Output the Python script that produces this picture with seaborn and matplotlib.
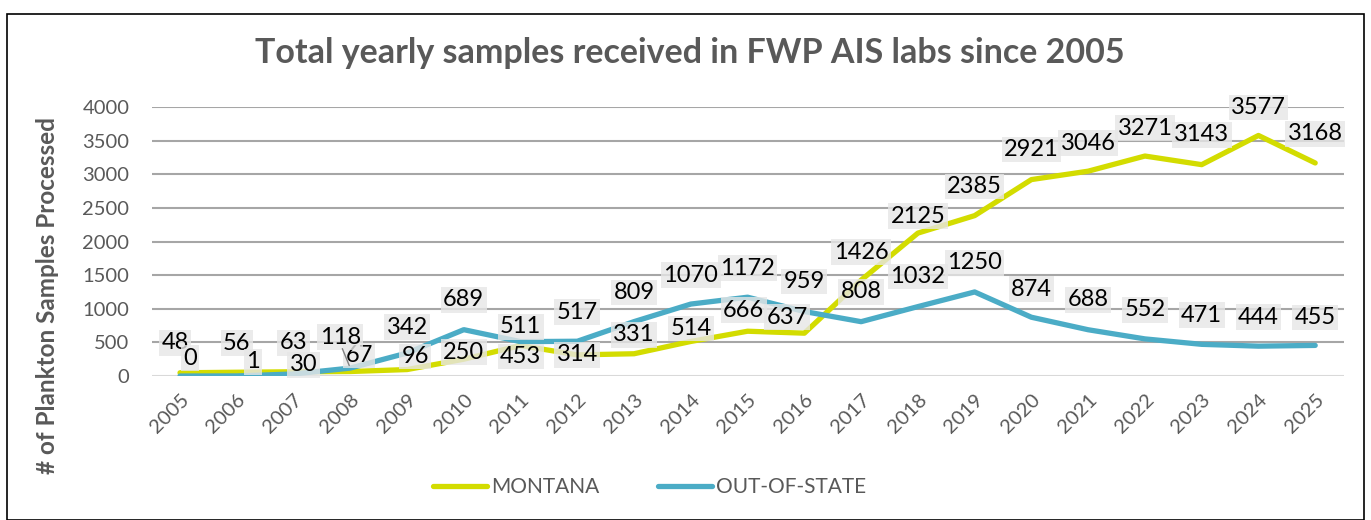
import matplotlib.pyplot as plt
import matplotlib.patches as mpatches
from matplotlib.lines import Line2D
import numpy as np
import pandas as pd
import seaborn as sns

years = [str(y) for y in range(2005, 2026)]
montana = [48, 56, 63, 67, 96, 250, 453, 314, 331, 514, 666, 637,
           1426, 2125, 2385, 2921, 3046, 3271, 3143, 3577, 3168]
out_of_state = [0, 1, 30, 118, 342, 689, 511, 517, 809, 1070, 1172, 959,
                808, 1032, 1250, 874, 688, 552, 471, 444, 455]
series_names = ["MONTANA", "OUT-OF-STATE"]
colors = ["#d3dc00", "#4bacc6"]

# data label offsets in pixels (dx, dy up), as placed in the original chart
mt_dy = [30, 29, 29, 16, 13, 7, -11, 0, 19, 13, 21, 16, 28, 17, 29, 30, 28, 28, 30, 28, 29]
mt_dx = [-5, 0, 0, 9, 8, 0, 0, 0, 0, 0, -4, -17, 0, 0, 0, 0, 0, 0, 0, 0, 0]
os_dy = [18, 14, 9, 31, 26, 30, 15, 29, 29, 29, 29, 30, 30, 30, 29, 28, 30, 29, 29, 29, 28]
os_dx = [10, 16, 10, -10, 0, 0, 0, 0, 0, 0, 0, 0, 0, 0, 0, 0, 0, 0, 0, 0, 0]

df = pd.DataFrame({
    "Year": years * 2,
    "Samples": montana + out_of_state,
    "Origin": [series_names[0]] * len(years) + [series_names[1]] * len(years),
})

sns.set_theme(style="white")
plt.rcParams["font.family"] = ["Lato", "DejaVu Sans"]
gray = "#595959"

fig = plt.figure(figsize=(13.71, 5.20), dpi=100)
ax = fig.add_axes([0.1106, 0.2769, 0.8694, 0.5173])

for y in range(500, 4001, 500):
    ax.axhline(y, color="#a6a6a6", lw=1.5, zorder=0)
ax.axhline(0, color="#d9d9d9", lw=1.5, zorder=0)

sns.lineplot(data=df, x="Year", y="Samples", hue="Origin", palette=colors,
             lw=3.8, legend=False, ax=ax, sort=False, zorder=2,
             solid_capstyle="round", solid_joinstyle="round")

x = np.arange(len(years))
for vals, dxs, dys in [(montana, mt_dx, mt_dy), (out_of_state, os_dx, os_dy)]:
    for i, v in enumerate(vals):
        ax.annotate(str(v), (x[i], v), xytext=(dxs[i], dys[i]),
                    textcoords="offset pixels", ha="center", va="center",
                    fontsize=17, color="black", zorder=3,
                    bbox=dict(boxstyle="square,pad=0.1", fc="#e6e6e6",
                              ec="none", alpha=0.8))

# leader line for the 2008 out-of-state label
ax.annotate("", xy=(x[3], out_of_state[3]), xytext=(-9, 22),
            textcoords="offset pixels",
            arrowprops=dict(arrowstyle="-", color="#808080", lw=1))

ax.set_xlim(-0.5, len(years) - 0.5)
ax.set_ylim(0, 4000)
ax.set_yticks(range(0, 4001, 500))
ax.tick_params(axis="y", labelsize=14.5, labelcolor=gray, pad=16, length=0)
ax.tick_params(axis="x", labelsize=14.5, labelcolor=gray, pad=11, length=0)
plt.setp(ax.get_xticklabels(), rotation=45, ha="right", rotation_mode="anchor")
for s in ax.spines.values():
    s.set_visible(False)
ax.set_xlabel("")
ax.set_ylabel("# of Plankton Samples Processed", fontsize=17.5, fontweight="bold",
              color=gray)
ax.yaxis.set_label_coords(-0.078, 0.30)

fig.text(0.503, 0.898, "Total yearly samples received in FWP AIS labs since 2005",
         ha="center", va="center", fontsize=24.5, fontweight="bold", color=gray)

handles = [Line2D([], [], color=c, lw=3.8, solid_capstyle="round") for c in colors]
fig.legend(handles, series_names, loc="center", bbox_to_anchor=(0.474, 0.063),
           ncol=2, frameon=False, fontsize=15, labelcolor=gray,
           handlelength=2.6, handletextpad=0.2, columnspacing=2.8)

fig.patches.append(mpatches.Rectangle((7 / 1371, 0), 1357 / 1371, 1 - 14 / 520,
                                      transform=fig.transFigure, fill=False,
                                      ec="black", lw=1.2))

fig.savefig("out.png", dpi=100)
